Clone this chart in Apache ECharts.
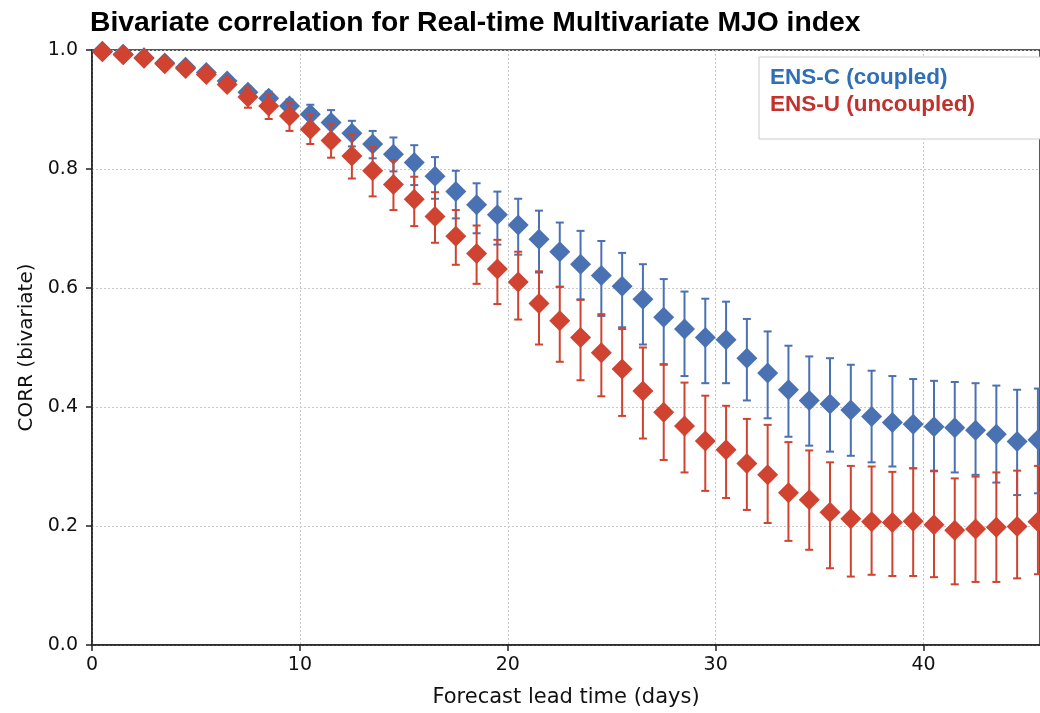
<!DOCTYPE html>
<html>
<head>
<meta charset="utf-8">
<script src="https://cdn.jsdelivr.net/npm/echarts@6/dist/echarts.min.js"></script>
<style>
html,body{margin:0;padding:0;background:#fff;}
#chart{width:1040px;height:713px;}
</style>
</head>
<body>
<div id="chart"></div>
<script>
// Forecast lead time (days)
const leadDays = [0.5,1.5,2.5,3.5,4.5,5.5,6.5,7.5,8.5,9.5,10.5,11.5,12.5,13.5,14.5,15.5,16.5,17.5,18.5,19.5,20.5,21.5,22.5,23.5,24.5,25.5,26.5,27.5,28.5,29.5,30.5,31.5,32.5,33.5,34.5,35.5,36.5,37.5,38.5,39.5,40.5,41.5,42.5,43.5,44.5,45.5];

// ENS-C (coupled)
const coupledMean = [0.998,0.993,0.987,0.978,0.971,0.962,0.948,0.929,0.919,0.906,0.892,0.878,0.860,0.842,0.825,0.811,0.788,0.762,0.740,0.723,0.706,0.682,0.661,0.640,0.621,0.603,0.581,0.551,0.531,0.517,0.513,0.482,0.457,0.429,0.411,0.405,0.395,0.384,0.374,0.371,0.367,0.365,0.361,0.354,0.342,0.345];
const coupledLow  = [0.997,0.991,0.984,0.974,0.966,0.956,0.940,0.919,0.907,0.893,0.877,0.858,0.838,0.818,0.796,0.773,0.750,0.717,0.692,0.673,0.656,0.626,0.602,0.581,0.553,0.534,0.505,0.472,0.452,0.440,0.440,0.411,0.381,0.350,0.335,0.325,0.318,0.307,0.300,0.297,0.293,0.290,0.286,0.273,0.252,0.255];
const coupledHigh = [0.999,0.995,0.990,0.982,0.976,0.968,0.956,0.939,0.930,0.917,0.908,0.899,0.881,0.864,0.853,0.840,0.820,0.797,0.776,0.762,0.750,0.730,0.710,0.696,0.679,0.659,0.640,0.615,0.594,0.582,0.577,0.548,0.527,0.503,0.485,0.482,0.471,0.461,0.452,0.447,0.444,0.442,0.440,0.436,0.429,0.431];

// ENS-U (uncoupled)
const uncoupledMean = [0.997,0.992,0.986,0.977,0.969,0.959,0.942,0.921,0.906,0.889,0.867,0.848,0.822,0.797,0.774,0.749,0.720,0.687,0.658,0.632,0.610,0.574,0.545,0.517,0.491,0.464,0.427,0.391,0.368,0.343,0.328,0.305,0.286,0.256,0.244,0.223,0.212,0.207,0.206,0.208,0.202,0.193,0.195,0.198,0.199,0.207];
const uncoupledLow  = [0.996,0.990,0.983,0.973,0.964,0.953,0.933,0.903,0.884,0.864,0.842,0.819,0.784,0.754,0.731,0.704,0.676,0.639,0.607,0.573,0.547,0.505,0.476,0.445,0.418,0.385,0.347,0.311,0.290,0.259,0.247,0.227,0.205,0.175,0.160,0.129,0.115,0.118,0.116,0.116,0.114,0.102,0.106,0.106,0.112,0.119];
const uncoupledHigh = [0.998,0.994,0.989,0.981,0.974,0.965,0.951,0.937,0.926,0.912,0.891,0.876,0.858,0.838,0.815,0.787,0.761,0.731,0.705,0.681,0.661,0.628,0.602,0.580,0.556,0.531,0.500,0.471,0.441,0.419,0.402,0.380,0.370,0.341,0.327,0.307,0.301,0.300,0.291,0.297,0.292,0.280,0.283,0.290,0.293,0.301];

const yTicks = [0.0,0.2,0.4,0.6,0.8,1.0];
const xTicks = [0,10,20,30,40];

const BLUE = '#4a71b1';
const RED = '#cf4330';

function meanData(m){ return leadDays.map((d,i)=>[d,m[i]]); }
function errData(lo,hi){ return leadDays.map((d,i)=>[d,lo[i],hi[i]]); }

function errRender(color){
  return function(params, api){
    const x = api.value(0);
    const p1 = api.coord([x, api.value(1)]);
    const p2 = api.coord([x, api.value(2)]);
    const cap = 4;
    const style = {stroke: color, lineWidth: 2};
    return {
      type: 'group',
      children: [
        {type:'line', shape:{x1:p1[0],y1:p1[1],x2:p2[0],y2:p2[1]}, style:style},
        {type:'line', shape:{x1:p1[0]-cap,y1:p1[1],x2:p1[0]+cap,y2:p1[1]}, style:style},
        {type:'line', shape:{x1:p2[0]-cap,y1:p2[1],x2:p2[0]+cap,y2:p2[1]}, style:style}
      ]
    };
  };
}

const chart = echarts.init(document.getElementById('chart'));
const option = {
  animation: false,
  backgroundColor: '#fff',
  title: {
    text: 'Bivariate correlation for Real-time Multivariate MJO index',
    left: 85, top: 4,
    textStyle: {fontFamily: 'Liberation Sans', fontWeight: 'bold', fontSize: 28.3, color: '#000'}
  },
  legend: {
    orient: 'vertical',
    left: 759, top: 57,
    padding: [9, 90, 23, 6],
    itemGap: 4,
    itemWidth: 0, itemHeight: 0,
    icon: 'none',
    backgroundColor: '#fff',
    borderColor: '#cccccc', borderWidth: 1,
    selectedMode: false,
    textStyle: {fontFamily: 'Liberation Sans', fontWeight: 'bold', fontSize: 22.5, lineHeight: 22},
    data: [
      {name: 'ENS-C (coupled)', textStyle: {color: '#2e6fb7'}},
      {name: 'ENS-U (uncoupled)', textStyle: {color: '#c4302b'}}
    ]
  },
  grid: {
    left: 92, right: -2, top: 50, bottom: 68,
    show: true, borderColor: '#222', borderWidth: 1.5, backgroundColor: 'transparent'
  },
  xAxis: {
    type: 'value', min: 0, max: 45.6, interval: 10,
    name: 'Forecast lead time (days)', nameLocation: 'middle', nameGap: 42,
    nameTextStyle: {fontFamily: 'DejaVu Sans', fontSize: 21, color: '#111'},
    axisLine: {show: true, lineStyle: {color: '#222', width: 1.5}},
    axisTick: {show: true, length: 6, inside: false, lineStyle: {color: '#222', width: 1.5}},
    axisLabel: {fontFamily: 'DejaVu Sans', fontSize: 19, color: '#111', margin: 11, showMaxLabel: false,
      formatter: v => (xTicks.indexOf(v) >= 0 ? String(v) : '')},
    splitLine: {show: true, lineStyle: {color: '#c8c8c8', type: [2, 2], width: 1}}
  },
  yAxis: {
    type: 'value', min: 0, max: 1, interval: 0.2,
    name: 'CORR (bivariate)', nameLocation: 'middle', nameGap: 55,
    nameTextStyle: {fontFamily: 'DejaVu Sans', fontSize: 20, color: '#111'},
    axisLine: {show: true, lineStyle: {color: '#222', width: 1.5}},
    axisTick: {show: true, length: 6, lineStyle: {color: '#222', width: 1.5}},
    axisLabel: {fontFamily: 'DejaVu Sans', fontSize: 19, color: '#111', margin: 14,
      formatter: v => yTicks.reduce((a,t)=>Math.abs(t-v)<1e-6 ? t.toFixed(1) : a, '')},
    splitLine: {show: true, lineStyle: {color: '#c8c8c8', type: [2, 2], width: 1}}
  },
  series: [
    {
      name: 'ENS-C err', type: 'custom', renderItem: errRender(BLUE),
      encode: {x: 0, y: [1, 2]}, data: errData(coupledLow, coupledHigh), z: 2, silent: true
    },
    {
      name: 'ENS-C (coupled)', type: 'scatter', symbol: 'diamond', symbolSize: [21, 21],
      itemStyle: {color: BLUE, opacity: 1}, data: meanData(coupledMean), z: 3
    },
    {
      name: 'ENS-U err', type: 'custom', renderItem: errRender(RED),
      encode: {x: 0, y: [1, 2]}, data: errData(uncoupledLow, uncoupledHigh), z: 4, silent: true
    },
    {
      name: 'ENS-U (uncoupled)', type: 'scatter', symbol: 'diamond', symbolSize: [21, 21],
      itemStyle: {color: RED, opacity: 1}, data: meanData(uncoupledMean), z: 5
    }
  ]
};
chart.setOption(option);
</script>
</body>
</html>
